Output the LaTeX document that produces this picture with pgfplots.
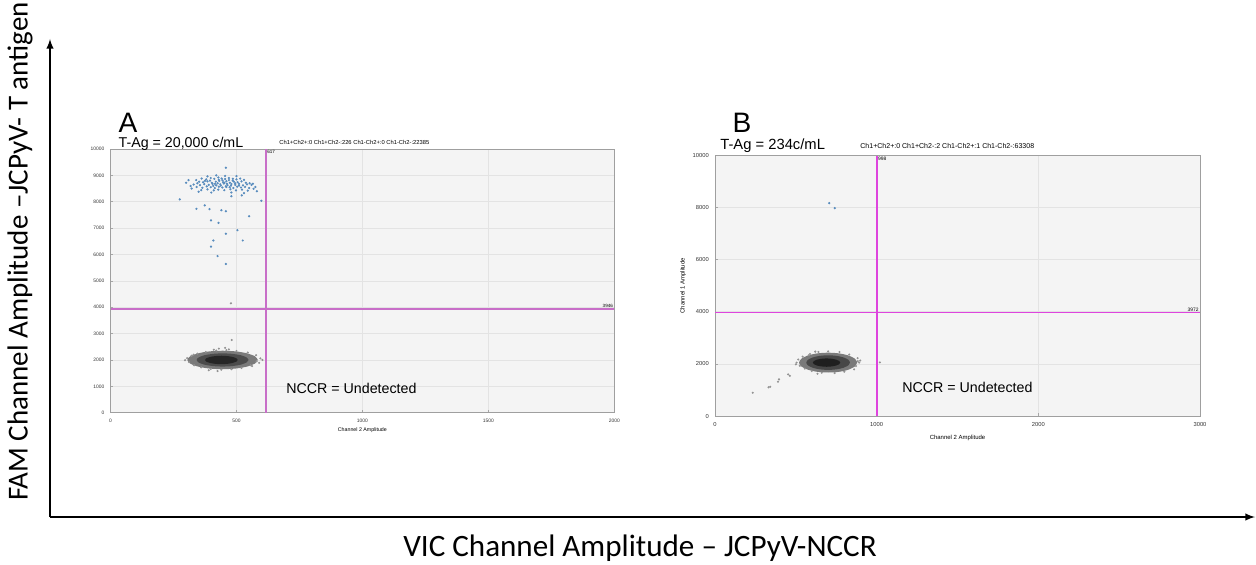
\documentclass[border=0pt]{standalone}
\usepackage{fontspec}
\setmainfont{Liberation Sans}
\newfontfamily\calibri{Carlito}
\usepackage{pgfplots}
\pgfplotsset{compat=1.18}

\definecolor{bgplot}{HTML}{F4F4F4}
\definecolor{dotblue}{HTML}{5A8DBE}
\definecolor{thrA}{HTML}{C86EC8}
\definecolor{thrB}{HTML}{DE44DE}

% common look of the two droplet plots
\pgfplotsset{ddpcr/.style={
    scale only axis, anchor=south west,
    ymin=0, ymax=10000,
    axis background/.style={fill=bgplot},
    axis line style={draw=gray!75, line width=0.5pt},
    grid=major, grid style={draw=gray!22, line width=0.35pt},
    tick style={draw=gray!70, line width=0.3pt},
    major tick length=1.5pt,
    xtick pos=left, ytick pos=left,
    scaled ticks=false,
    /pgf/number format/assume math mode=true,
    /pgf/number format/1000 sep={},
    clip=false,
}}

\begin{document}
\begin{tikzpicture}
\useasboundingbox (0,0) rectangle (25.12,11.28);

% ---------------- panel A ----------------
\begin{axis}[ddpcr,
    at={(2.21cm,3.026cm)}, width=10.076cm, height=5.274cm,
    xmin=0, xmax=2000,
    xtick={0,500,1000,1500,2000}, ytick={0,1000,...,10000},
    ticklabel style={font=\fontsize{2.8}{3}\selectfont, text=black!80},
    xlabel={Channel 2 Amplitude},
    xlabel style={font=\fontsize{3}{3.5}\selectfont, yshift=4pt},
]
% negative droplets (dense cloud)
\addplot[draw=none, fill=black!52, smooth] coordinates {
 (585,2000) (574,2134) (544,2247) (499,2323) (445,2350) (391,2323) (346,2247) (316,2134)
 (305,2000) (316,1866) (346,1753) (391,1677) (445,1650) (499,1677) (544,1753) (574,1866)};
\addplot[draw=none, fill=black!70, smooth] coordinates {
 (548,2000) (540,2096) (518,2177) (484,2231) (445,2250) (406,2231) (372,2177) (350,2096)
 (342,2000) (350,1904) (372,1823) (406,1769) (445,1750) (484,1769) (518,1823) (540,1904)};
\addplot[draw=none, fill=black!85, smooth] coordinates {
 (505,2000) (500,2061) (485,2113) (464,2147) (440,2160) (416,2147) (395,2113) (380,2061)
 (375,2000) (380,1939) (395,1887) (416,1853) (440,1840) (464,1853) (485,1887) (500,1939)};
\addplot[only marks, mark=*, mark size=0.38pt, color=gray!85] coordinates {
 (296,1990) (304,2070) (312,1920) (322,2160) (332,1800) (345,2240) (360,1720) (378,2300)
 (398,1660) (420,2360) (440,1630) (460,2370) (480,1650) (500,2340) (520,1700) (545,2280)
 (562,1770) (578,2180) (590,1890) (595,2060) (603,2000) (580,1950) (425,1580) (390,1610)
 (455,2460) (430,2430) (481,2757) (478,4150) (330,2200) (557,1800) (470,2400) (410,2390)};
% positive droplets
\addplot[only marks, mark=*, mark size=0.42pt, color=dotblue] coordinates {
 (340,8820) (362,8880) (380,8850) (398,8900) (412,8870) (428,8920) (441,8880) (455,8860)
 (470,8900) (486,8870) (500,8850) (515,8880) (530,8830) (352,8760) (375,8790)
 (345,8700) (368,8740) (385,8770) (402,8720) (418,8760) (432,8790) (447,8740) (460,8780)
 (474,8720) (490,8760) (505,8740) (520,8770) (537,8720) (552,8700)
 (330,8650) (355,8630) (372,8670) (390,8640) (405,8680) (420,8620) (436,8660) (450,8690)
 (465,8630) (480,8670) (495,8640) (510,8680) (526,8620) (542,8660) (560,8640)
 (342,8560) (365,8530) (382,8580) (398,8550) (414,8520) (430,8570) (444,8540) (458,8590)
 (473,8550) (488,8520) (503,8570) (518,8540) (534,8560) (550,8520)
 (360,8440) (385,8470) (410,8430) (428,8460) (452,8440) (476,8470) (498,8430) (522,8460) (545,8420)
 (425,8700) (438,8610) (452,8720) (462,8680) (478,8610) (415,8680) (408,8600) (470,8820)
 (445,8810) (495,8700) (485,8800) (430,8830) (460,8560) (395,8800) (510,8610)
 (300,8720) (310,8820) (318,8600) (322,8500) (575,8560) (568,8490) (581,8400) (565,8680)
 (350,8380) (400,8350) (480,8350) (530,8330) (455,8980) (420,9000) (385,8960) (500,8970)
 (458,9290) (275,8090) (599,8035) (341,7730) (374,7860) (393,7720) (440,7680) (458,7640)
 (550,7450) (399,7290) (429,7200) (504,6920) (458,6790) (525,6530) (408,6530) (399,6300)
 (425,5940) (458,5640) (480,8210) (521,8240)};
% thresholds
\addplot[thrA, line width=1.1pt] coordinates {(617,0) (617,10000)};
\addplot[thrA, line width=1.1pt] coordinates {(0,3946) (2000,3946)};
\node[font=\fontsize{2.6}{3}\selectfont, anchor=north west, inner sep=0.6pt] at (axis cs:617,10000) {617};
\node[font=\fontsize{2.6}{3}\selectfont, anchor=south east, inner sep=0.6pt] at (axis cs:2000,3946) {3946};
\end{axis}

% ---------------- panel B ----------------
\begin{axis}[ddpcr,
    at={(14.3cm,2.96cm)}, width=9.7cm, height=5.21cm,
    xmin=0, xmax=3000,
    xtick={0,1000,2000,3000}, ytick={0,2000,...,10000},
    ticklabel style={font=\fontsize{3.3}{3.8}\selectfont, text=black!80},
    xlabel={Channel 2 Amplitude}, ylabel={Channel 1 Amplitude},
    xlabel style={font=\fontsize{3.4}{4}\selectfont, yshift=2pt},
    ylabel style={font=\fontsize{3.4}{4}\selectfont, yshift=-3pt},
]
\addplot[draw=none, fill=black!52, smooth] coordinates {
 (880,2050) (866,2196) (827,2319) (769,2402) (700,2430) (631,2402) (573,2319) (534,2196)
 (520,2050) (534,1904) (573,1781) (631,1698) (700,1670) (769,1698) (827,1781) (866,1904)};
\addplot[draw=none, fill=black!72, smooth] coordinates {
 (835,2050) (825,2157) (795,2248) (752,2309) (700,2330) (648,2309) (605,2248) (575,2157)
 (565,2050) (575,1943) (605,1852) (648,1791) (700,1770) (752,1791) (795,1852) (825,1943)};
\addplot[draw=none, fill=black!88, smooth] coordinates {
 (775,2050) (768,2111) (749,2163) (721,2197) (690,2210) (659,2197) (631,2163) (612,2111)
 (605,2050) (612,1989) (631,1937) (659,1903) (690,1890) (721,1903) (749,1937) (768,1989)};
\addplot[only marks, mark=*, mark size=0.38pt, color=gray!85] coordinates {
 (505,2050) (515,2170) (525,1930) (542,2280) (556,1820) (588,2380) (598,1730) (640,2460)
 (660,1660) (700,2480) (740,1650) (770,2460) (800,1700) (830,2360) (860,1790) (882,2220)
 (892,2050) (898,2130) (872,1920) (620,2470) (580,2330)
 (233,893) (331,1100) (342,1123) (390,1315) (396,1406) (452,1598) (463,1544)
 (500,1981) (634,1621) (1020,2057) (884,2107)};
\addplot[only marks, mark=*, mark size=0.42pt, color=dotblue] coordinates {
 (706,8172) (741,7981)};
\addplot[thrB, line width=1.1pt] coordinates {(1000,0) (1000,10000)};
\addplot[thrB, line width=1.1pt] coordinates {(0,3972) (3000,3972)};
\node[font=\fontsize{2.8}{3}\selectfont, anchor=north west, inner sep=0.6pt] at (axis cs:1000,10000) {998};
\node[font=\fontsize{2.8}{3}\selectfont, anchor=south east, inner sep=0.6pt] at (axis cs:3000,3972) {3972};
\end{axis}

% panel titles and annotations
\node[font=\fontsize{16}{18}\selectfont, inner sep=0pt] at (2.56,8.82) {A};
\node[font=\fontsize{16}{18}\selectfont, inner sep=0pt] at (14.84,8.82) {B};
\node[font=\fontsize{8.1}{9}\selectfont, anchor=west, inner sep=0pt] at (2.366,8.40) {T-Ag = 20,000 c/mL};
\node[font=\fontsize{8.4}{9}\selectfont, anchor=west, inner sep=0pt] at (14.4,8.36) {T-Ag = 234c/mL};
\node[font=\fontsize{3.3}{4}\selectfont, anchor=west, inner sep=0pt] at (5.58,8.44) {Ch1+Ch2+:0 Ch1+Ch2-:226 Ch1-Ch2+:0 Ch1-Ch2-:22385};
\node[font=\fontsize{4}{4.5}\selectfont, anchor=west, inner sep=0pt] at (17.2,8.36) {Ch1+Ch2+:0 Ch1+Ch2-:2 Ch1-Ch2+:1 Ch1-Ch2-:63308};
\node[font=\fontsize{8.1}{9}\selectfont, anchor=west, inner sep=0pt] at (5.72,3.52) {NCCR = Undetected};
\node[font=\fontsize{8.1}{9}\selectfont, anchor=west, inner sep=0pt] at (18.04,3.54) {NCCR = Undetected};

% overall axes of the figure
\draw[line width=0.9pt, -latex] (1.0,0.94) -- (1.0,10.5);
\draw[line width=0.9pt, -latex] (1.0,0.94) -- (25.1,0.94);
\node[font=\calibri\fontsize{16.5}{18}\selectfont, rotate=90] at (0.4,6.25) {FAM Channel Amplitude –JCPyV- T antigen};
\node[font=\calibri\fontsize{17.7}{19}\selectfont] at (12.8,0.32) {VIC Channel Amplitude – JCPyV-NCCR};
\end{tikzpicture}
\end{document}
